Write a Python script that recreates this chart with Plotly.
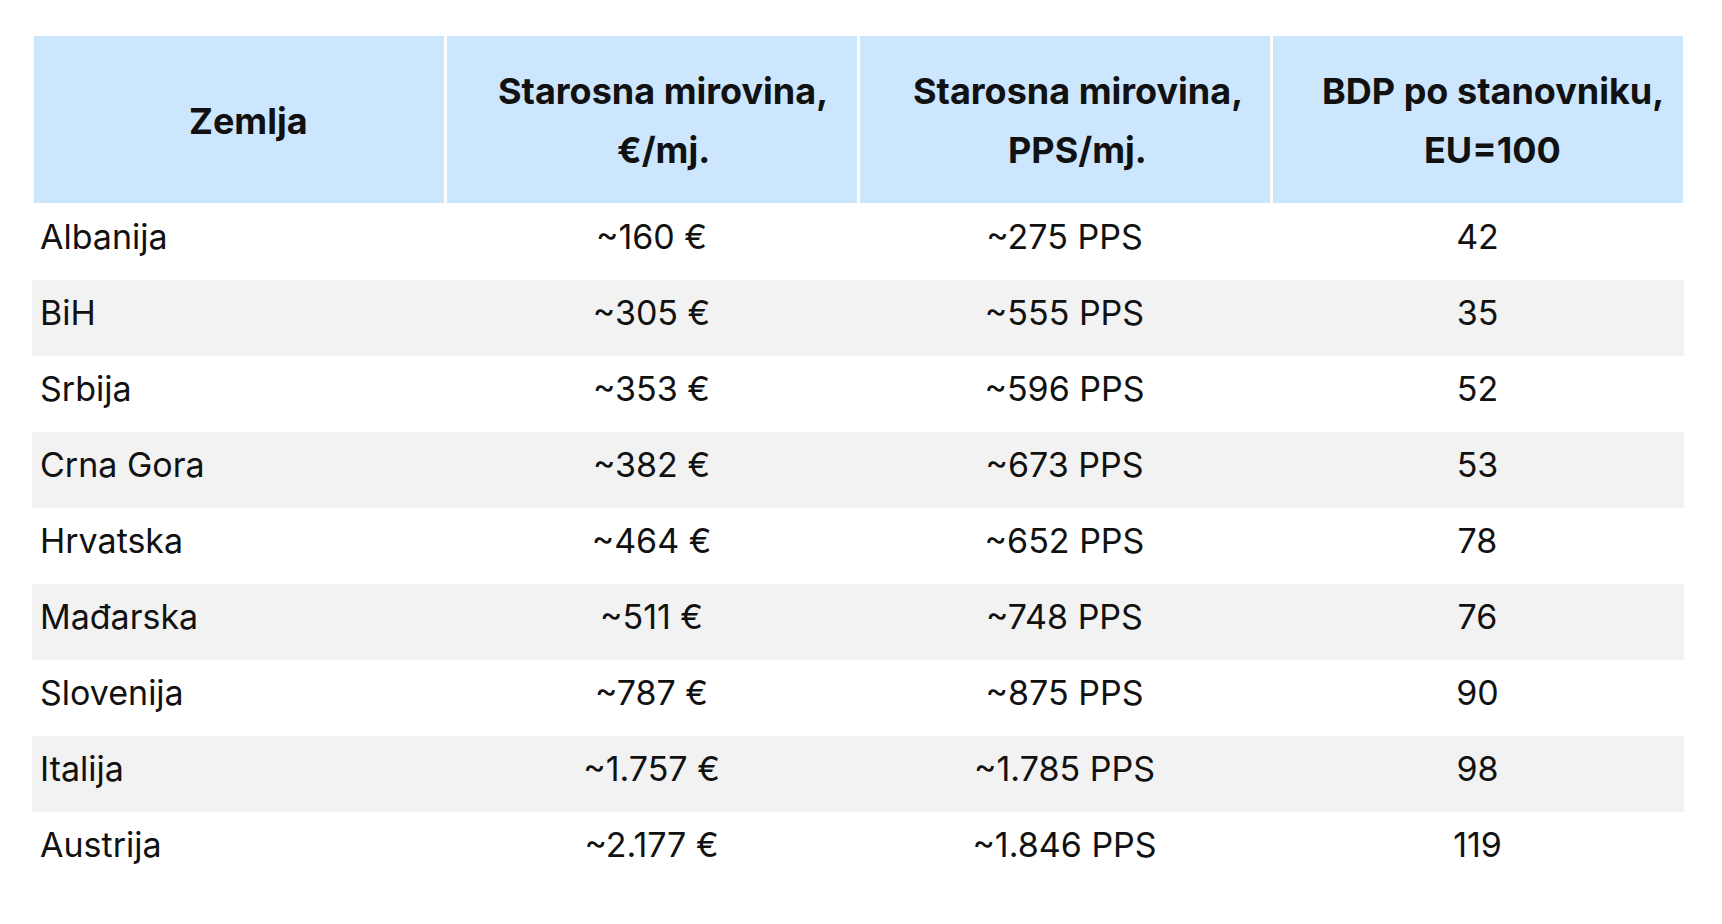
import plotly.graph_objects as go

zemlja = ["Albanija", "BiH", "Srbija", "Crna Gora", "Hrvatska", "Mađarska",
          "Slovenija", "Italija", "Austrija"]
mirovina_eur = ["~160 €", "~305 €", "~353 €", "~382 €", "~464 €", "~511 €",
                "~787 €", "~1.757 €", "~2.177 €"]
mirovina_pps = ["~275 PPS", "~555 PPS", "~596 PPS", "~673 PPS", "~652 PPS",
                "~748 PPS", "~875 PPS", "~1.785 PPS", "~1.846 PPS"]
bdp = ["42", "35", "52", "53", "78", "76", "90", "98", "119"]
header_lines = [["Zemlja"], ["Starosna mirovina,", "€/mj."],
                ["Starosna mirovina,", "PPS/mj."], ["BDP po stanovniku,", "EU=100"]]

W, H = 1722, 924
left, right, top = 24, 1676, 26
head_h, row_h = 170, 76
text_drop = 11  # push cell text down to sit mid-row

row_fill = ["#ffffff" if i % 2 == 0 else "#f2f2f2" for i in range(len(zemlja))]
fills = [row_fill] * 4
blank = [[""] * len(zemlja)] * 4

# background table: fills only
fig = go.Figure(go.Table(
    columnwidth=[1, 1, 1, 1],
    header=dict(values=["", "", "", ""], height=head_h, fill_color="#cce6fd",
                line=dict(color="white", width=3)),
    cells=dict(values=blank, height=row_h, fill_color=fills,
               line=dict(color=fills, width=0)),
    domain=dict(x=[left / W, right / W], y=[0, 1 - top / H]),
))
# text table, shifted down, transparent
fig.add_trace(go.Table(
    columnwidth=[1, 1, 1, 1],
    header=dict(values=["", "", "", ""], height=head_h,
                fill_color="rgba(0,0,0,0)", line=dict(width=0)),
    cells=dict(values=[zemlja, mirovina_eur, mirovina_pps, bdp],
               height=row_h, fill_color="rgba(0,0,0,0)", line=dict(width=0),
               align=["left", "center", "center", "center"],
               font=dict(family="Inter", size=34, color="#111111")),
    domain=dict(x=[left / W, right / W], y=[0, 1 - (top + text_drop) / H]),
))

ref_left, ref_right = 33, 1692
col_w = (ref_right - ref_left) / 4
for i, lines in enumerate(header_lines):
    cx = (ref_left + col_w * (i + 0.5)) / W
    ys = [113] if len(lines) == 1 else [83, 142]
    for txt, y in zip(lines, ys):
        fig.add_annotation(x=cx, y=1 - y / H, xref="paper", yref="paper",
                           text="<b>" + txt + "</b>", showarrow=False,
                           font=dict(family="Inter", size=36, color="#111111"),
                           xanchor="center", yanchor="middle")

fig.update_layout(width=W, height=H, margin=dict(l=0, r=0, t=0, b=0),
                  paper_bgcolor="white", plot_bgcolor="white")
fig.write_html("out.html")
